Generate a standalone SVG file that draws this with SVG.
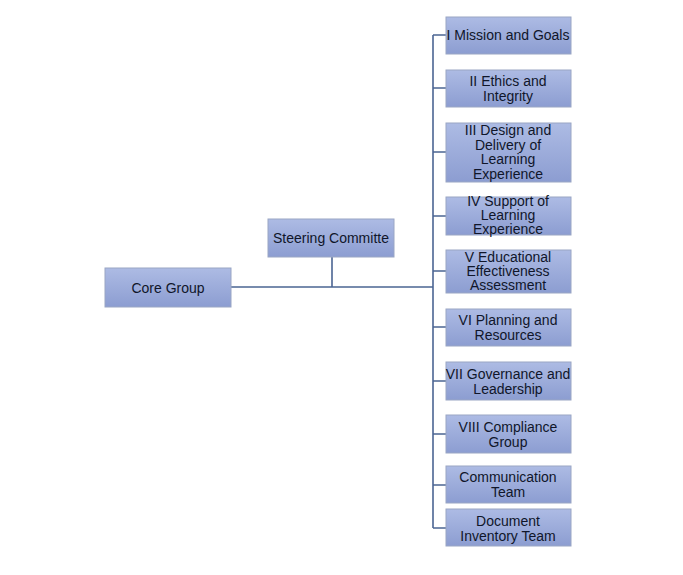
<svg xmlns="http://www.w3.org/2000/svg" width="683" height="575" viewBox="0 0 683 575">
<defs>
<linearGradient id="g" x1="0" y1="0" x2="0" y2="1">
<stop offset="0" stop-color="#adbbe4"/>
<stop offset="1" stop-color="#8c9dd1"/>
</linearGradient>
<style>
.box{fill:url(#g);stroke:#9aa6c4;stroke-width:1}
.t{font-family:"Liberation Sans",Arial,sans-serif;font-size:14px;fill:#10162a;text-anchor:middle}
.c{fill:none;stroke:#4b6593;stroke-width:1.6}
</style>
</defs>
<rect width="683" height="575" fill="#ffffff"/>
<g id="connectors">
<path class="c" d="M231 287H433M332 257V287M433 35V528"/>
<path class="c" d="M433 35H446M433 88H446M433 152H446M433 216H446M433 271H446M433 327H446M433 381H446M433 434H446M433 485H446M433 528H446"/>
</g>
<g id="core"><rect class="box" x="105" y="268" width="126" height="39"/><text class="t" x="168" y="293" font-size="16">Core Group</text></g>
<g id="steering"><rect class="box" x="268" y="219" width="126" height="38"/><text class="t" x="331" y="243" font-size="14.5">Steering Committe</text></g>
<g id="n1"><rect class="box" x="446" y="17" width="125" height="37"/><text class="t" x="508" y="40">I Mission and Goals</text></g>
<g id="n2"><rect class="box" x="446" y="70" width="125" height="37"/><text class="t" x="508" y="86">II Ethics and</text><text class="t" x="508" y="100.5">Integrity</text></g>
<g id="n3"><rect class="box" x="446" y="123" width="125" height="59"/><text class="t" x="508" y="135">III Design and</text><text class="t" x="508" y="149.5">Delivery of</text><text class="t" x="508" y="164">Learning</text><text class="t" x="508" y="178.5">Experience</text></g>
<g id="n4"><rect class="box" x="446" y="197" width="125" height="38"/><text class="t" x="508" y="206">IV Support of</text><text class="t" x="508" y="220">Learning</text><text class="t" x="508" y="234">Experience</text></g>
<g id="n5"><rect class="box" x="446" y="250" width="125" height="43"/><text class="t" x="508" y="262">V Educational</text><text class="t" x="508" y="276">Effectiveness</text><text class="t" x="508" y="290">Assessment</text></g>
<g id="n6"><rect class="box" x="446" y="309" width="125" height="37"/><text class="t" x="508" y="325">VI Planning and</text><text class="t" x="508" y="339.5">Resources</text></g>
<g id="n7"><rect class="box" x="446" y="362" width="125" height="38"/><text class="t" x="508" y="379">VII Governance and</text><text class="t" x="508" y="393.5">Leadership</text></g>
<g id="n8"><rect class="box" x="446" y="415" width="125" height="38"/><text class="t" x="508" y="432">VIII Compliance</text><text class="t" x="508" y="446.5">Group</text></g>
<g id="n9"><rect class="box" x="446" y="466" width="125" height="37"/><text class="t" x="508" y="482">Communication</text><text class="t" x="508" y="496.5">Team</text></g>
<g id="n10"><rect class="box" x="446" y="509" width="125" height="37"/><text class="t" x="508" y="526">Document</text><text class="t" x="508" y="540.5">Inventory Team</text></g>
</svg>
